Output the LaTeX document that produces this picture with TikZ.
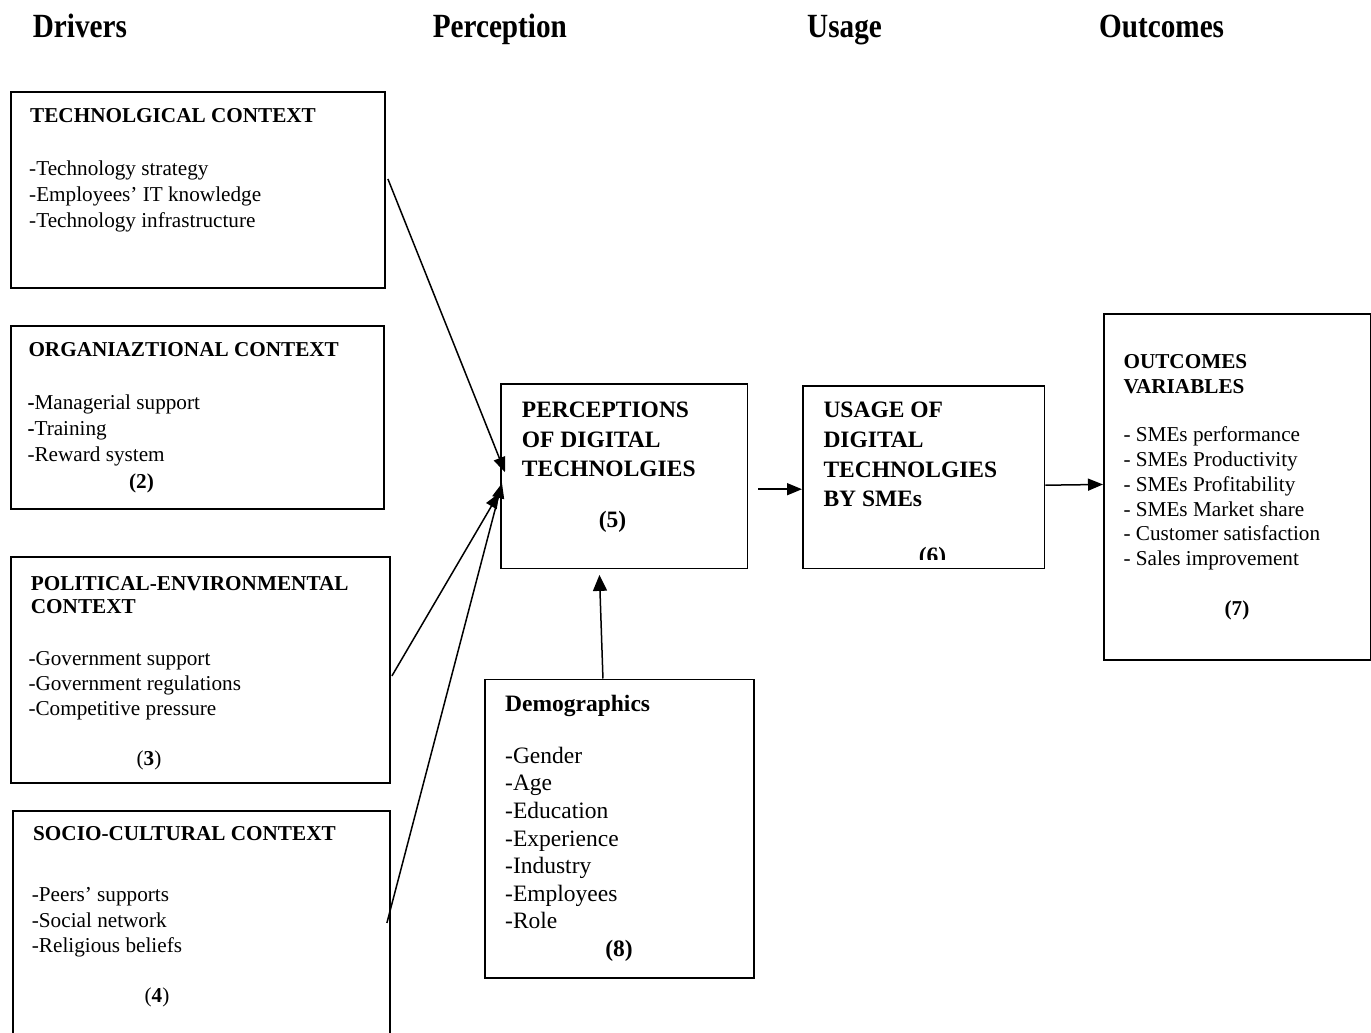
\documentclass[tikz,border=0pt]{standalone}
\usepackage{graphicx}
\usepackage{fontspec}
\setmainfont{Liberation Serif}
\usetikzlibrary{arrows.meta,calc}
\begin{document}
\begin{tikzpicture}[x=1pt,y=-1pt,
  box/.style={draw=black,line width=1.9pt,inner sep=0pt,anchor=north west},
  head/.style={anchor=base west,inner sep=0pt,font=\fontsize{29.2}{32}\selectfont\bfseries},
  ttl/.style={anchor=base west,inner sep=0pt,font=\fontsize{21.2}{26}\selectfont\bfseries},
  itm/.style={anchor=base west,inner sep=0pt,font=\fontsize{21.2}{26}\selectfont},
  bigttl/.style={anchor=base west,inner sep=0pt,font=\fontsize{23.5}{29}\selectfont\bfseries},
  bigitm/.style={anchor=base west,inner sep=0pt,font=\fontsize{23.5}{29}\selectfont},
  num/.style={anchor=base,inner sep=0pt,font=\fontsize{21.2}{26}\selectfont},
  bignum/.style={anchor=base,inner sep=0pt,font=\fontsize{23.5}{29}\selectfont},
  link/.style={line width=1.5pt,-{Triangle[length=15pt,width=12pt]}}
]
\clip (0,0) rectangle (1371,1033);
\fill[white] (0,0) rectangle (1371,1033);

% column headings
\node[head] (hd-drv) at (32.7,38) {\scalebox{1}[1.16]{Drivers}};
\node[head] (hd-per) at (432.6,38) {\scalebox{1}[1.16]{Perception}};
\node[head] (hd-use) at (807,38) {\scalebox{1}[1.16]{Usage}};
\node[head] (hd-out) at (1099,38) {\scalebox{1}[1.16]{Outcomes}};

% frames
\node[box,minimum width=374pt,minimum height=196pt] (tech) at (10,91) {};
\node[box,minimum width=373pt,minimum height=183pt] (org) at (10,325) {};
\node[box,minimum width=379pt,minimum height=226pt] (pol) at (10,556) {};
\node[box,minimum width=377pt,minimum height=240pt] (soc) at (12,810) {};
\node[box,minimum width=246.5pt,minimum height=184.5pt] (perc) at (500,383) {};
\node[box,minimum width=241.5pt,minimum height=182.5pt] (usage) at (802,385) {};
\node[box,minimum width=266.5pt,minimum height=346pt] (out) at (1103,313) {};
\node[box,minimum width=269pt,minimum height=298.5pt] (demo) at (484,678.5) {};

% technological context
\node[ttl] (tech-t) at (30,122.3) {TECHNOLGICAL CONTEXT};
\foreach \t [count=\i] in {-Technology strategy,-Employees’ IT knowledge,-Technology infrastructure}
  \node[itm] (tech-\i) at (29,{175+26*(\i-1)}) {\t};

% organizational context
\node[ttl] (org-t) at (28.3,356.7) {ORGANIAZTIONAL CONTEXT};
\foreach \t [count=\i] in {\textbf{-}Managerial support,\textbf{-}Training,-Reward system}
  \node[itm] (org-\i) at (27.3,{409.3+26.2*(\i-1)}) {\t};
\node[num] (org-n) at (141.5,488.3) {\textbf{(2)}};

% political-environmental context
\node[ttl] (pol-t1) at (30.7,590) {POLITICAL-ENVIRONMENTAL};
\node[ttl] (pol-t2) at (30.7,613.3) {CONTEXT};
\foreach \t [count=\i] in {-Government support,-Government regulations,-Competitive pressure}
  \node[itm] (pol-\i) at (28.3,{665+25*(\i-1)}) {\t};
\node[num] (pol-n) at (149,765) {(\textbf{3})};

% socio-cultural context
\node[ttl] (soc-t) at (33,840) {SOCIO-CULTURAL CONTEXT};
\foreach \t [count=\i] in {-Peers’ supports,-Social network,-Religious beliefs}
  \node[itm] (soc-\i) at (31.7,{901.7+25.5*(\i-1)}) {\t};
\node[num] (soc-n) at (157,1002.7) {(\textbf{4})};

% perceptions
\foreach \t [count=\i] in {PERCEPTIONS,OF DIGITAL,TECHNOLGIES}
  \node[bigttl] (perc-\i) at (521.7,{417.7+29.5*(\i-1)}) {\t};
\node[bignum] (perc-n) at (612.5,527) {\textbf{(5)}};

% usage
\foreach \t [count=\i] in {USAGE OF,DIGITAL,TECHNOLGIES,BY SMEs}
  \node[bigttl] (usage-\i) at (823.3,{417.7+29.7*(\i-1)}) {\t};
\begin{scope}
  \clip (803,386) rectangle (1043,559);
  \node[bignum] (usage-n) at (932.5,563.5) {\textbf{(6)}};
\end{scope}

% outcomes
\node[ttl] (out-t1) at (1123.3,368.3) {OUTCOMES};
\node[ttl] (out-t2) at (1123.3,393.3) {VARIABLES};
\foreach \t [count=\i] in {- SMEs performance,- SMEs Productivity,- SMEs Profitability,- SMEs Market share,- Customer satisfaction,- Sales improvement}
  \node[itm] (out-\i) at (1123.3,{441.7+24.8*(\i-1)}) {\t};
\node[num] (out-n) at (1237,615) {\textbf{(7)}};

% demographics
\node[bigttl] (demo-t) at (505,711.7) {Demographics};
\foreach \t [count=\i] in {-Gender,-Age,-Education,-Experience,-Industry,-Employees,-Role}
  \node[bigitm] (demo-\i) at (505,{763.3+27.6*(\i-1)}) {\t};
\node[bignum] (demo-n) at (619,956.7) {\textbf{(8)}};

% connectors
\draw[link] ($(tech.east)+(2,-11)$) -- ($(perc.west)+(5,-4)$);
\draw[link] ($(pol.east)+(1,6)$) -- ($(perc.west)+(-1,17)$);
\draw[link] ($(soc.east)+(-4,-8)$) -- ($(perc.west)+(2,7)$);
\draw[link] ($(perc.east)+(10,13)$) -- ($(usage.west)+(0,12)$);
\draw[link] ($(usage.east)+(0,8)$) -- ($(out.west)+(0,-2.5)$);
\draw[line width=1.5pt,-{Triangle[length=16pt,width=14pt]}] ($(demo.north)+(-16.5,0)$) -- ($(perc.south)+(-24.75,5.5)$);
\end{tikzpicture}
\end{document}
